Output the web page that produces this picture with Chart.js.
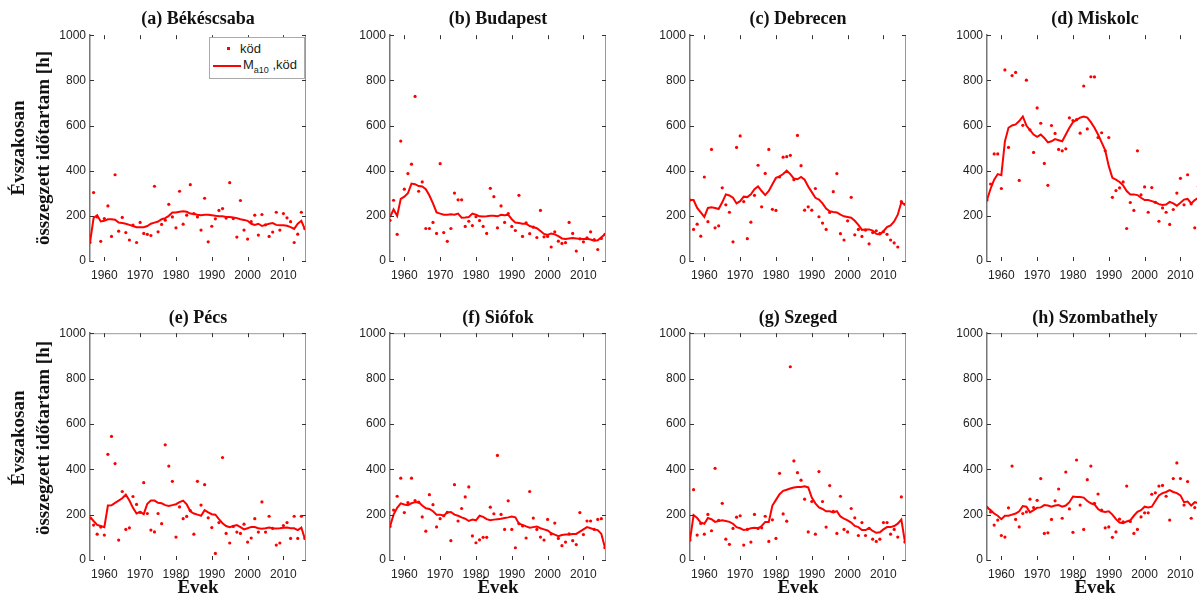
<!DOCTYPE html>
<html>
<head>
<meta charset="utf-8">
<script src="https://cdn.jsdelivr.net/npm/chart.js@4"></script>
<style>
body { margin: 0; width: 1197px; height: 597px; overflow: hidden; background: #fff; position: relative;
       font-family: "Liberation Serif", "Times New Roman", serif; }
canvas { position: absolute; }
.ttl { position: absolute; font-weight: bold; font-size: 18px; line-height: 22px; height: 22px;
       text-align: center; white-space: nowrap; color: #111; }
.ylab { position: absolute; width: 260px; height: 50px; line-height: 25px; font-size: 19px; font-weight: bold;
        text-align: center; white-space: nowrap; transform: rotate(-90deg); color: #111; }
#lg { position: absolute; left: 209px; top: 37px; width: 94px; height: 40px; border: 1px solid #aaa; background: #fff;
      font-family: "Liberation Sans", Arial, sans-serif; font-size: 13px; color: #222; z-index: 5; }
#lg span { position: absolute; white-space: nowrap; }
#lg sub { font-size: 9px; }
</style>
</head>
<body>

<script>
// years on the x axis
var years = [1956, 1957, 1958, 1959, 1960, 1961, 1962, 1963, 1964, 1965,
             1966, 1967, 1968, 1969, 1970, 1971, 1972, 1973, 1974, 1975,
             1976, 1977, 1978, 1979, 1980, 1981, 1982, 1983, 1984, 1985,
             1986, 1987, 1988, 1989, 1990, 1991, 1992, 1993, 1994, 1995,
             1996, 1997, 1998, 1999, 2000, 2001, 2002, 2003, 2004, 2005,
             2006, 2007, 2008, 2009, 2010, 2011, 2012, 2013, 2014, 2015,
             2016];
var xTicks = [1960, 1970, 1980, 1990, 2000, 2010];
var yTicks = [0, 200, 400, 600, 800, 1000];

var titles = ["(a) Békéscsaba", "(b) Budapest", "(c) Debrecen", "(d) Miskolc",
              "(e) Pécs", "(f) Siófok", "(g) Szeged", "(h) Szombathely"];

// (a) Békéscsaba
var fogA = [82, 303, 195, 87, 188, 244, 109, 382, 132, 193,
            126, 93, 159, 82, 171, 122, 118, 113, 331, 129,
            162, 181, 251, 195, 147, 309, 163, 203, 338, 210,
            195, 137, 278, 85, 154, 187, 224, 232, 190, 347,
            188, 106, 268, 137, 97, 174, 203, 115, 206, 160,
            109, 128, 216, 137, 210, 191, 174, 82, 119, 216,
            143];
var maA = [82, 190, 203, 175, 178, 185, 185, 183, 170, 168,
           165, 160, 155, 150, 150, 150, 155, 165, 170, 175,
           185, 190, 200, 215, 215, 218, 220, 218, 210, 208,
           205, 203, 205, 205, 203, 200, 198, 198, 195, 195,
           193, 190, 185, 182, 178, 165, 160, 165, 155, 160,
           165, 168, 160, 158, 158, 156, 150, 142, 165, 178,
           140];

// (b) Budapest
var fogB = [180, 269, 118, 531, 318, 387, 429, 729, 309, 350,
            144, 144, 171, 122, 431, 126, 87, 144, 301, 271,
            271, 153, 176, 157, 196, 179, 153, 122, 322, 285,
            147, 244, 171, 210, 153, 135, 291, 109, 169, 121,
            150, 104, 224, 107, 109, 62, 129, 88, 78, 81,
            171, 122, 44, 98, 85, 103, 129, 95, 51, 100,
            118];
var maB = [195, 228, 200, 275, 285, 300, 343, 340, 332, 330,
           318, 290, 255, 215, 210, 205, 205, 207, 205, 210,
           192, 193, 195, 210, 205, 198, 197, 198, 200, 200,
           198, 205, 203, 205, 185, 170, 168, 165, 165, 155,
           150, 145, 133, 120, 115, 122, 118, 110, 100, 98,
           100, 102, 100, 98, 97, 98, 95, 90, 92, 105,
           118];

// (c) Debrecen
var fogC = [270, 140, 163, 110, 372, 174, 494, 147, 156, 324,
            249, 216, 85, 503, 554, 263, 99, 172, 291, 424,
            240, 388, 494, 229, 224, 372, 460, 462, 468, 360,
            556, 422, 225, 240, 225, 321, 196, 168, 140, 215,
            307, 387, 121, 93, 178, 282, 116, 140, 109, 137,
            76, 126, 134, 122, 130, 118, 93, 80, 62, 263,
            251];
var maC = [270, 270, 235, 215, 195, 235, 238, 235, 230, 260,
           295, 290, 280, 255, 265, 285, 283, 295, 318, 330,
           310, 292, 310, 340, 368, 375, 385, 400, 385, 365,
           362, 372, 360, 330, 305, 280, 272, 255, 232, 220,
           217, 215, 205, 198, 195, 192, 178, 160, 138, 140,
           140, 135, 120, 118, 132, 150, 158, 175, 205, 260,
           250];

// (d) Miskolc
var fogD = [270, 341, 474, 474, 321, 846, 503, 821, 835, 357,
            601, 801, 581, 481, 678, 610, 432, 335, 600, 565,
            494, 488, 497, 634, 622, 626, 566, 775, 585, 816,
            815, 547, 568, 488, 547, 282, 312, 324, 350, 144,
            259, 224, 488, 293, 328, 216, 325, 260, 176, 235,
            216, 162, 228, 301, 366, 249, 382, 253, 147, 330,
            280];
var maD = [270, 320, 360, 385, 380, 530, 590, 600, 605, 620,
           640, 600, 580, 560, 550, 560, 545, 525, 530, 540,
           535, 530, 560, 590, 615, 625, 635, 640, 635, 615,
           590, 560, 525, 490, 420, 368, 360, 350, 335, 310,
           295, 295, 292, 280, 270, 270, 265, 260, 252, 248,
           250, 262, 255, 245, 258, 272, 275, 255, 270, 280,
           280];

// (e) Pécs
var fogE = [185, 154, 114, 145, 110, 466, 545, 425, 88, 302,
            135, 142, 280, 245, 210, 341, 205, 132, 124, 205,
            160, 508, 414, 347, 101, 234, 182, 192, 218, 114,
            347, 242, 332, 186, 143, 29, 165, 452, 117, 75,
            148, 123, 117, 158, 79, 97, 182, 123, 256, 123,
            193, 139, 66, 75, 152, 165, 95, 193, 95, 193,
            95];
var maE = [190, 172, 155, 150, 145, 240, 241, 252, 262, 272,
           288, 262, 230, 205, 212, 202, 248, 262, 262, 252,
           250, 242, 238, 242, 246, 255, 262, 245, 215, 205,
           200, 195, 220, 210, 202, 200, 180, 162, 150, 145,
           150, 154, 145, 135, 140, 146, 145, 140, 138, 140,
           143, 140, 139, 140, 142, 143, 140, 140, 132, 143,
           92];

// (f) Siófok
var fogF = [148, 220, 281, 361, 209, 253, 361, 262, 255, 190,
            127, 288, 244, 146, 182, 195, 210, 85, 332, 172,
            227, 278, 322, 106, 76, 89, 100, 100, 233, 204,
            461, 201, 135, 261, 135, 54, 160, 150, 97, 302,
            185, 135, 101, 88, 179, 115, 163, 95, 63, 79,
            115, 85, 68, 209, 112, 172, 172, 135, 179, 182,
            54];
var maF = [148, 200, 230, 250, 245, 242, 250, 255, 255, 240,
           228, 225, 215, 200, 200, 195, 210, 212, 200, 195,
           188, 182, 172, 178, 175, 195, 190, 180, 175, 178,
           180, 182, 185, 188, 192, 188, 160, 155, 148, 142,
           145, 148, 140, 135, 130, 118, 112, 105, 110, 112,
           112, 115, 115, 125, 135, 145, 140, 135, 132, 115,
           55];

// (g) Szeged
var fogG = [88, 310, 110, 161, 114, 201, 129, 404, 175, 250,
            92, 69, 139, 189, 195, 66, 135, 79, 201, 139,
            142, 193, 82, 177, 95, 382, 203, 171, 852, 437,
            385, 352, 268, 124, 258, 114, 390, 258, 145, 328,
            215, 117, 281, 135, 124, 227, 186, 108, 165, 108,
            140, 92, 82, 92, 165, 165, 114, 135, 101, 278,
            79];
var maG = [88, 198, 185, 165, 160, 185, 180, 168, 172, 175,
           172, 168, 160, 145, 140, 132, 135, 140, 142, 140,
           150, 168, 168, 240, 265, 290, 305, 310, 315, 320,
           322, 322, 325, 320, 275, 250, 232, 225, 215, 215,
           210, 215, 192, 182, 175, 165, 150, 145, 132, 132,
           140, 128, 120, 122, 135, 145, 145, 150, 160, 178,
           80];

// (h) Szombathely
var fogH = [232, 212, 154, 176, 108, 101, 230, 414, 179, 146,
            205, 212, 268, 231, 263, 359, 117, 120, 179, 261,
            313, 184, 388, 225, 122, 441, 242, 135, 354, 414,
            250, 291, 220, 142, 146, 100, 124, 180, 168, 326,
            170, 117, 135, 190, 208, 208, 290, 296, 326, 329,
            281, 176, 359, 428, 359, 242, 346, 184, 231, 260,
            240];
var maH = [232, 220, 205, 195, 180, 195, 195, 200, 205, 215,
           238, 235, 210, 220, 230, 232, 242, 240, 235, 240,
           242, 235, 240, 255, 280, 278, 278, 275, 260, 250,
           245, 225, 215, 212, 215, 200, 180, 165, 162, 170,
           175, 195, 212, 220, 235, 232, 235, 260, 285, 295,
           300, 308, 300, 295, 285, 255, 258, 240, 255, 250,
           245];

var fogSeries = [fogA, fogB, fogC, fogD, fogE, fogF, fogG, fogH];
var maSeries = [maA, maB, maC, maD, maE, maF, maG, maH];

// layout (pixels)
var colLeft = [90, 390, 690, 987];
var rowTop = [34, 332];
var rowH = [227, 228];
var plotW = 216;
var yAxisW = 50, xAxisH = 25, padTop = 10, padRight = 6;

// inward ticks on all four sides + light box like the matlab figure
var frame = {
    id: 'frame',
    afterDraw: function (chart, args, opts) {
        var ctx = chart.ctx, a = chart.chartArea;
        var sx = chart.scales.x, sy = chart.scales.y;
        ctx.save();
        ctx.strokeStyle = '#999';
        ctx.lineWidth = 1;
        ctx.beginPath();
        ctx.moveTo(a.right - 0.5, a.top);
        ctx.lineTo(a.right - 0.5, a.bottom);
        if (opts.topLine) {
            ctx.moveTo(a.left, a.top + 0.5);
            ctx.lineTo(a.right, a.top + 0.5);
        }
        ctx.stroke();
        ctx.strokeStyle = '#333';
        ctx.beginPath();
        xTicks.forEach(function (v) {
            var px = Math.round(sx.getPixelForValue(v)) + 0.5;
            ctx.moveTo(px, a.bottom); ctx.lineTo(px, a.bottom - 4);
            ctx.moveTo(px, a.top); ctx.lineTo(px, a.top + 4);
        });
        yTicks.forEach(function (v) {
            var py = Math.round(sy.getPixelForValue(v)) + 0.5;
            ctx.moveTo(a.left, py); ctx.lineTo(a.left + 4, py);
            ctx.moveTo(a.right, py); ctx.lineTo(a.right - 4, py);
        });
        ctx.stroke();
        ctx.restore();
    }
};

var tickFont = { family: '"Liberation Sans", Arial, sans-serif', size: 12 };

function addDiv(cls, html, css) {
    var d = document.createElement('div');
    d.className = cls;
    d.innerHTML = html;
    Object.assign(d.style, css);
    document.body.appendChild(d);
    return d;
}

titles.forEach(function (t, i) {
    var c = i % 4, r = Math.floor(i / 4);
    var cv = document.createElement('canvas');
    cv.width = yAxisW + plotW + padRight;
    cv.height = padTop + rowH[r] + xAxisH;
    cv.style.left = (colLeft[c] - yAxisW) + 'px';
    cv.style.top = (rowTop[r] - padTop) + 'px';
    document.body.appendChild(cv);

    var fog = fogSeries[i], ma = maSeries[i];

    new Chart(cv, {
        type: 'line',
        data: {
            datasets: [{
                label: 'Ma10,köd',
                data: years.map(function (y, j) { return { x: y, y: ma[j] }; }),
                borderColor: '#ff0000',
                borderWidth: 2,
                pointRadius: 0,
                tension: 0,
                order: 1
            }, {
                label: 'köd',
                data: years.map(function (y, j) { return { x: y, y: fog[j] }; }),
                showLine: false,
                pointRadius: 1.6,
                pointBackgroundColor: '#ff0000',
                pointBorderWidth: 0,
                order: 0
            }]
        },
        options: {
            responsive: false,
            animation: false,
            layout: { padding: { top: padTop, right: padRight, left: 0, bottom: 0 } },
            plugins: { legend: { display: false }, tooltip: { enabled: false }, frame: { topLine: r === 1 } },
            scales: {
                x: {
                    type: 'linear', min: 1956, max: 2016.3,
                    afterBuildTicks: function (s) { s.ticks = xTicks.map(function (v) { return { value: v }; }); },
                    afterFit: function (s) { s.height = xAxisH; },
                    grid: { display: false, drawTicks: false },
                    border: { display: false },
                    ticks: { padding: 7, color: '#222', font: tickFont, maxRotation: 0, autoSkip: false,
                             callback: function (v) { return String(v); } }
                },
                y: {
                    min: 0, max: 1000,
                    afterBuildTicks: function (s) { s.ticks = yTicks.map(function (v) { return { value: v }; }); },
                    afterFit: function (s) { s.width = yAxisW; },
                    grid: { display: false, drawTicks: false },
                    border: { display: true, color: '#777', width: 1.5 },
                    ticks: { padding: 4, color: '#222', font: tickFont, autoSkip: false,
                             callback: function (v) { return String(v); } }
                }
            }
        },
        plugins: [frame]
    });

    var cx = colLeft[c] + plotW / 2;
    var ty = r === 0 ? 18 : 317;
    addDiv('ttl', t, { left: (cx - 100) + 'px', width: '200px', top: (ty - 11) + 'px' });
    if (r === 1) {
        addDiv('ttl', 'Évek', { left: (cx - 60) + 'px', width: '120px', top: '575px', fontSize: '19px', lineHeight: '24px', height: '24px' });
    }
    if (c === 0) {
        var cy = r === 0 ? 148 : 438;
        addDiv('ylab', 'Évszakosan<br>összegzett időtartam [h]', { left: (29.5 - 130) + 'px', top: (cy - 25) + 'px' });
    }
});

var lg = document.createElement('div');
lg.id = 'lg';
lg.innerHTML =
    '<span style="left:17px;top:9px;width:3px;height:3px;background:#ff0000"></span>' +
    '<span style="left:30px;top:3px">köd</span>' +
    '<span style="left:3px;top:27px;width:28px;height:2px;background:#ff0000"></span>' +
    '<span style="left:33px;top:19px">M<sub>a10</sub> ,köd</span>';
document.body.appendChild(lg);
</script>
</body>
</html>
